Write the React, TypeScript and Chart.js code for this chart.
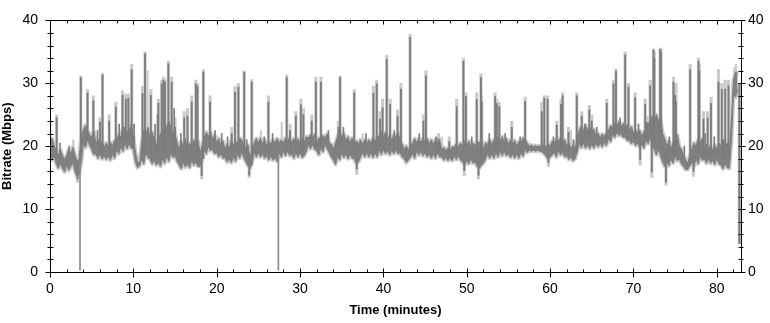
import { useEffect, useRef } from "react";
import { Chart, registerables } from "chart.js";

Chart.register(...registerables);

const X_MAX = 82.9;
const Y_MAX = 40;
// Band envelope sampling interval (minutes)
const BAND_STEP = 0.25;

const xTicks = [0, 10, 20, 30, 40, 50, 60, 70, 80];
const yTicks = [0, 10, 20, 30, 40];

// Upper edge of the dense average-bitrate band (Mbps), every 0.25 min (one row per minute)
const bandHigh = [
  20.5, 21.2, 20, 19.3,
  18.5, 19.4, 18.5, 17.9,
  18.5, 19.5, 18.8, 19.8,
  18.5, 17.6, 18, 21.5,
  22.5, 23.3, 22.5, 21.8,
  21.5, 22.4, 20.5, 21,
  20, 20.8, 19.8, 20.5,
  19.8, 20.6, 20, 20.9,
  21, 21.8, 21.5, 23,
  23, 22.2, 22.5, 23.4,
  21.5, 19, 17.5, 17.2,
  20.5, 22.5, 22, 23,
  21, 22.2, 21, 20.2,
  20.5, 22, 22, 23.5,
  23, 24, 23, 22,
  22, 20.5, 19.5, 20.8,
  20, 21.2, 19.5, 20.5,
  20, 21, 19.5, 20.8,
  19, 20, 21.5, 22.2,
  21.5, 22.3, 21, 21.8,
  20.5, 21.2, 20, 20.8,
  19.5, 20.3, 19.5, 21,
  20, 20.8, 20.5, 21.3,
  21, 20.3, 19.5, 20.2,
  18, 19.5, 20.5, 21.2,
  20.5, 21.3, 20.3, 21,
  20, 20.8, 20.3, 21,
  20.5, 21.2, 20.5, 21,
  20.5, 21.3, 20.8, 21.4,
  20.5, 21.2, 20.5, 21.2,
  20.5, 21.3, 20.5, 21.5,
  21.3, 21.8, 21.2, 21.9,
  20.5, 21.3, 21, 21.7,
  21.3, 21.9, 20.5, 20.3,
  19.5, 20.5, 21.5, 22.5,
  21.5, 22, 20.8, 21.5,
  20.5, 21.3, 20.5, 20.8,
  20.3, 21, 20.3, 21,
  20.3, 21, 20.5, 21.3,
  20.8, 21.6, 21.5, 22.3,
  21.5, 22.2, 21, 21.8,
  21, 21.8, 21.5, 22.2,
  21, 20.3, 19.5, 20,
  19.3, 20.2, 20.5, 21.2,
  20.5, 21.2, 20.5, 21.3,
  20.5, 21.2, 20.3, 21,
  20.3, 21, 20.5, 21,
  19.3, 19.8, 19.2, 19.7,
  19.3, 19.9, 19.8, 20.4,
  19.8, 20.5, 20, 20.8,
  20, 20.8, 19.8, 20.5,
  20, 20.8, 20.5, 21,
  19.5, 20.5, 20.3, 21,
  20.3, 21, 20.8, 21.5,
  20.8, 21.5, 20.5, 21.2,
  20.3, 21, 20.3, 20.9,
  20, 20.7, 20.5, 21.3,
  21, 20.5, 20, 20.2,
  19.9, 20.1, 19.9, 20.1,
  19.8, 20.3, 19.8, 20.4,
  20, 20.8, 20.5, 21.2,
  20.8, 21.4, 20.5, 21,
  20, 20.6, 19.5, 20.2,
  19.5, 21.5, 22.5, 23.2,
  22.5, 23.3, 22.5, 23.1,
  22, 22.7, 21.5, 22,
  21.3, 21.9, 21.5, 22.1,
  22.5, 23.2, 23, 23.7,
  23.3, 23.9, 23, 23.6,
  22.8, 23.4, 22.5, 23.1,
  22, 22.6, 22, 22.5,
  21.5, 22.3, 22.5, 23.5,
  24, 24.8, 24, 25,
  24, 24.5, 22, 21.2,
  20, 20.8, 19.5, 20.6,
  21, 21.8, 20, 19.5,
  18.5, 17.8, 17.3, 18.5,
  19.5, 20.5, 20, 21,
  20.5, 21.2, 19.5, 20.3,
  19.5, 20.2, 19.3, 20.1,
  19.5, 20.5, 20, 21,
  20, 20.5, 19, 24,
  30.5, 31.8, 31.5,
];

// Lower edge of the band (Mbps), same sampling
const bandLow = [
  18.5, 17.8, 18.5, 17.2,
  16.5, 17.3, 16.5, 15.9,
  17, 16.2, 16.8, 17.4,
  16, 15.2, 15.5, 17.5,
  20.5, 19.8, 21, 20.2,
  19.5, 18.7, 18.8, 18.1,
  18.8, 18, 18.5, 17.9,
  18.5, 17.8, 18.8, 18.1,
  19.5, 18.8, 20, 19.2,
  20.5, 19.6, 20.5, 19.7,
  19.5, 17.5, 16.6, 16.9,
  18, 17.2, 19, 18.2,
  18, 17.2, 17.8, 17,
  17.5, 16.8, 18, 17.3,
  18.5, 17.6, 19, 18.2,
  18.5, 17.6, 17, 16.4,
  17.5, 16.7, 17.3, 16.6,
  17.8, 17, 17.5, 16.8,
  16.8, 17.9, 19.5, 18.8,
  20, 19.3, 19.5, 18.8,
  19, 18.3, 18.8, 18.1,
  18.2, 17.5, 18, 17.4,
  18.3, 17.6, 18.8, 18.1,
  19, 18.2, 17.5, 16.9,
  16.5, 17.5, 19, 18.3,
  19, 18.3, 18.8, 18.1,
  18.5, 17.8, 18.5, 17.8,
  18.2, 17.6, 19, 18.3,
  19.2, 18.5, 19.2, 18.5,
  18.8, 18.1, 19, 18.3,
  19, 18.2, 18.5, 19.2,
  20.3, 19.6, 20.3, 19.5,
  19.3, 18.6, 19.8, 19.1,
  20.3, 19.6, 19, 18.3,
  17.8, 17.1, 18.5, 17.8,
  19, 18.2, 18.8, 18,
  18.8, 18.1, 18, 17.2,
  17.5, 18.3, 19, 18.3,
  19, 18.3, 19, 18.2,
  19, 18.3, 19.5, 18.7,
  19.5, 18.8, 19.3, 18.6,
  19.5, 18.8, 19.5, 18.8,
  19, 18.3, 18, 17.4,
  17.8, 18.3, 18.8, 18.1,
  19.3, 18.6, 19.2, 18.5,
  19, 18.3, 18.8, 18.1,
  18.8, 18.1, 19, 18.3,
  18.3, 17.8, 18.2, 17.7,
  18.2, 17.7, 18.5, 17.9,
  18.5, 17.8, 17.5, 17,
  17.8, 17.2, 18, 17.3,
  17.5, 16.8, 16.5, 17,
  17.3, 18, 18.8, 18.1,
  18.8, 18.1, 19, 18.3,
  19.2, 18.5, 19.2, 18.5,
  18.8, 18.2, 18.8, 18.1,
  18.8, 18.1, 19, 18.4,
  19.5, 19, 19.4, 19.2,
  19.4, 19.2, 19.4, 19.2,
  19.2, 18.8, 18.5, 17.9,
  18.3, 18.6, 19, 18.3,
  19.3, 18.6, 19, 18.3,
  18.5, 17.9, 18.3, 17.7,
  18, 19.2, 20.5, 19.8,
  20.5, 19.7, 20.3, 19.6,
  20.3, 19.7, 20.5, 19.9,
  20.5, 19.9, 20.7, 20.1,
  21.3, 20.7, 22, 21.4,
  22.3, 21.7, 22, 21.4,
  21.5, 20.9, 21, 20.4,
  20.8, 20.1, 20.5, 19.8,
  20.3, 19.7, 21, 20.4,
  21.5, 19.8, 19.5, 18.6,
  19.5, 18.5, 17.5, 16.8,
  17.5, 16.9, 18, 17.3,
  18.5, 17.7, 18, 17.2,
  16.8, 16.3, 16.3, 16.9,
  17.5, 16.8, 18, 17.2,
  18.5, 17.8, 18, 17.3,
  18, 17.3, 17.8, 17.1,
  18, 17.2, 17, 16.4,
  17.3, 16.6, 16.5, 21,
  28.5, 27.8, 29,
];

// Tall excursions of the average bitrate: time (min), start, end (Mbps), and peak value reached
const spikeTimes = [
  0.8, 3.3, 3.7, 4.5, 5.2, 6.0, 6.3, 7.1, 7.9,
  8.7, 9.1, 9.4, 9.8, 11.1, 11.4, 12.1, 13.0, 13.4, 13.6,
  13.8, 14.2, 14.6, 15.0, 16.1, 16.5, 17.0, 17.5, 17.7, 18.2,
  18.4, 19.2, 21.8, 22.2, 22.6, 23.3, 23.9, 24.2, 26.2,
  28.4, 28.8, 29.5, 30.1, 30.4, 31.4, 31.9, 32.5, 34.6, 34.8,
  36.5, 36.8, 38.8, 39.2, 39.6, 39.9, 40.4, 40.8, 41.7, 42.1,
  43.2, 44.8, 45.1, 46.6, 47.9, 48.8, 49.6, 49.7, 49.9, 51.2,
  51.4, 51.7, 51.8, 53.4, 53.6, 53.9, 55.4, 57.0, 59.0, 59.3,
  59.7, 59.8, 60.8, 61.3, 61.5, 62.2, 63.2, 63.8, 64.7, 65.0,
  66.8, 67.6, 67.9, 69.0, 69.4, 70.2, 70.8, 71.4, 71.6, 72.0,
  72.2, 72.4, 72.5, 73.2, 73.3, 73.9, 74.8, 75.0, 75.1, 76.8,
  77.2, 77.8, 77.9, 78.4, 78.9, 79.3, 80.2, 80.6, 81.0, 81.4,
  82.7,
];
const spikeFrom = [
  19, 17, 19, 21, 20, 19, 19, 19, 20,
  21, 21, 21, 21, 19, 19, 19, 19, 19, 19,
  19, 19, 19, 19, 18, 18, 18, 18, 18, 18,
  18, 20, 18.5, 19, 19, 19, 18, 17, 19,
  19.5, 19.5, 19.5, 19.5, 19.5, 20.5, 20, 20, 20, 20,
  19, 19, 19.5, 19.5, 20, 20, 20, 20, 20, 19.5,
  19, 19.5, 19.5, 19, 18.5, 19, 19, 18, 19, 18.5,
  18, 18.5, 18.5, 19.5, 19.5, 19.5, 19.5, 20, 19.5, 19.5,
  19.5, 19, 19.5, 19.5, 19.5, 19, 19, 21, 21, 21,
  21, 22, 22, 22, 21.5, 21, 20.5, 21, 21, 21.5,
  21, 21, 21, 21, 21, 19, 18.5, 18.5, 18.5, 17,
  18.5, 19, 19, 18.5, 18.5, 18.5, 18.5, 18, 18, 17.5,
  30,
];
const spikeTo = [
  24.5, 14.8, 30.9, 28.5, 27.2, 23.8, 31.3, 24, 26.2,
  28.1, 27.5, 27.6, 32.2, 28.4, 34.7, 28.1, 26.8, 29.9, 30.5,
  30.2, 33.1, 30.2, 23, 24.5, 24.8, 27, 29.9, 29.5, 15.3,
  31.8, 27, 22, 28.6, 29.4, 31.7, 15.4, 30.2, 27,
  30.9, 22.5, 24.8, 26.6, 25, 24, 30.2, 30.2, 23, 30.9,
  28.5, 16.4, 28.4, 29.9, 24.3, 26.1, 33.8, 26.6, 24.8, 29.1,
  37.3, 24, 31.2, 21.2, 20.7, 26.3, 33.5, 16.1, 27.9, 27.4,
  15.4, 30.9, 27, 27.9, 26.8, 26.3, 23, 27.1, 25.5, 27.6,
  27.5, 17.4, 23.3, 26.7, 28, 22.2, 28, 24.8, 25.8, 24,
  26.8, 29.9, 31.9, 34.5, 29.4, 27.7, 17.9, 26.6, 23.8, 29.6,
  15.9, 35.3, 34, 35.4, 35, 14.3, 30.2, 28.1, 27, 32.2,
  16, 33.5, 32, 24.3, 24.5, 26.8, 30.2, 29.1, 29.1, 29.6,
  4.5,
];
const spikePeak = [
  25, 14.3, 31.2, 29, 28, 24.5, 31.6, 25, 27,
  28.8, 28.3, 28.3, 33, 29.5, 35, 29, 27.5, 30.5, 31,
  30.6, 33.5, 31, 24.5, 25.5, 26, 28, 30.5, 30, 14.8,
  32.2, 28, 23, 29.5, 30, 32, 15, 30.6, 28,
  31.3, 23.5, 25.5, 27.5, 26, 25, 31, 31, 24, 31.2,
  29, 15.5, 29.5, 30.5, 25.5, 27.5, 34.5, 27.5, 25.8, 30,
  37.8, 25, 32, 22, 21.5, 27.5, 34, 15.3, 28.5, 28.5,
  14.8, 31.5, 28, 28.5, 27.5, 27, 24, 27.8, 27, 28,
  28, 16.8, 24, 27.5, 28.5, 23, 28.5, 25.5, 26.5, 25,
  27.5, 30.5, 32.3, 35, 30, 28.5, 17, 27.5, 24.8, 30.5,
  15, 35.5, 35, 35.6, 35.5, 13.8, 31, 29, 30, 33,
  15.2, 34, 33, 25.5, 25.5, 27.8, 32.2, 30, 30.5, 30.5,
  4.5,
];

// Small excursions just above the band: time (min), start, end (Mbps)
const smallSpikeTimes = [
  1.2, 2.3, 5.7, 8.3, 10.1, 12.6, 12.9, 14.9, 15.7, 19.8,
  20.6, 21.3, 23.6, 25.7, 26.7, 33.4, 35.2, 37.9, 41.3, 44.3,
  46.3, 50.6, 52.7, 54.6, 56.4, 60.4, 62.8, 64.2, 65.6, 68.4,
  70.6, 74.3, 76.1, 78.6, 79.7, 80.8,
];
const smallSpikeFrom = [
  18, 18, 20, 20.5, 20.5, 19, 19, 19, 18.5, 20,
  19.5, 19, 18.5, 19.5, 19.5, 20.5, 20, 19.5, 20, 20,
  19.5, 19, 19.5, 20, 19.5, 19.5, 19, 21.5, 21, 22.5,
  21, 18.5, 17.5, 19, 18.5, 18,
];
const smallSpikeTo = [
  20.5, 20, 22.5, 23.5, 23.5, 23.5, 25, 26, 22, 22.5,
  22, 21.5, 21, 21.5, 22, 22.5, 23, 22, 22.5, 22,
  21.5, 21.5, 22, 22, 21.5, 21.5, 21, 23.5, 23, 24.5,
  23.5, 21.5, 20, 22, 21.5, 21,
];

// Momentary drops in the trace: time (min), start, end (Mbps)
const dropTimes = [3.6, 27.4];
const dropFrom = [17.5, 18.5];
const dropTo = [0.3, 0.3];

// Peak-only excursions (light trace): time (min), start, end (Mbps)
const peakOnlyTimes = [2.8, 11.7, 25.3, 27.8, 37.5, 47.0, 62.5, 82.1, 82.3];
const peakOnlyFrom = [18, 20, 19.5, 20, 20, 19, 19, 29, 30];
const peakOnlyTo = [21, 32, 22.5, 23.8, 22, 21.5, 22.5, 32.5, 33];

const DARK = "#7c7c7c";
const LIGHT = "#cacaca";

const TICK_FONT = {
  family: '"Liberation Sans", Arial, sans-serif',
  size: 14,
};
const TITLE_FONT = {
  family: '"Liberation Sans", Arial, sans-serif',
  size: 13,
  weight: "bold" as const,
};

const bandPoints = (vals: number[]) =>
  vals.map((v, i) => ({ x: i * BAND_STEP, y: v }));
const rangePoints = (t: number[], a: number[], b: number[]) =>
  t.map((x, i) => ({ x, y: [a[i], b[i]] }));

const framePlugin = {
  id: "frameTicks",
  afterDraw(chart: any) {
    const { ctx, chartArea } = chart;
    const xs = chart.scales.x;
    const ys = chart.scales.y;
    const L = Math.round(chartArea.left) + 0.5;
    const R = Math.round(chartArea.right) + 0.5;
    const T = Math.round(chartArea.top) + 0.5;
    const B = Math.round(chartArea.bottom) + 0.5;
    ctx.save();
    ctx.strokeStyle = "#000";
    ctx.lineWidth = 1;
    ctx.beginPath();
    ctx.moveTo(L, T);
    ctx.lineTo(R, T);
    ctx.lineTo(R, B);
    ctx.lineTo(L, B);
    ctx.closePath();
    for (let v = 0; v <= 82; v += 2) {
      const px = Math.round(xs.getPixelForValue(v)) + 0.5;
      const major = v % 10 === 0;
      ctx.moveTo(px, B - (major ? 4 : 3));
      ctx.lineTo(px, B + (major ? 5 : 0));
      ctx.moveTo(px, T);
      ctx.lineTo(px, T + (major ? 4 : 3));
    }
    for (let v = 0; v <= Y_MAX; v += 2) {
      const py = Math.round(ys.getPixelForValue(v)) + 0.5;
      const major = v % 10 === 0;
      ctx.moveTo(L - (major ? 5 : 3), py);
      ctx.lineTo(L + 3, py);
      ctx.moveTo(R - 3, py);
      ctx.lineTo(R + (major ? 4 : 2), py);
    }
    ctx.stroke();
    ctx.restore();
  },
};

const hiddenGrid = {
  display: false,
  drawTicks: false,
  drawOnChartArea: false,
  tickLength: 0,
};

export default function App() {
  const canvasRef = useRef<HTMLCanvasElement | null>(null);

  useEffect(() => {
    const canvas = canvasRef.current;
    if (!canvas) return;
    const lineBase = {
      type: "line" as const,
      pointRadius: 0,
      tension: 0,
      borderJoinStyle: "round" as const,
    };
    const barBase = {
      type: "bar" as const,
      borderWidth: 0,
      grouped: false,
    };
    const chart = new Chart(canvas, {
      type: "line",
      data: {
        datasets: [
          {
            ...barBase,
            label: "Average spikes",
            data: rangePoints(spikeTimes, spikeFrom, spikeTo),
            backgroundColor: DARK,
            barThickness: 1.2,
            order: 1,
          } as any,
          {
            ...barBase,
            label: "Average small spikes",
            data: rangePoints(smallSpikeTimes, smallSpikeFrom, smallSpikeTo),
            backgroundColor: DARK,
            barThickness: 1,
            order: 1,
          } as any,
          {
            ...barBase,
            label: "Drops",
            data: rangePoints(dropTimes, dropFrom, dropTo),
            backgroundColor: "#8a8a8a",
            barThickness: 1,
            order: 1,
          } as any,
          {
            ...lineBase,
            label: "Average high",
            data: bandPoints(bandHigh),
            borderColor: DARK,
            borderWidth: 1,
            backgroundColor: "#808080",
            fill: "+1",
            order: 2,
          },
          {
            ...lineBase,
            label: "Average low",
            data: bandPoints(bandLow),
            borderColor: DARK,
            borderWidth: 1,
            fill: false,
            order: 2,
          },
          {
            ...barBase,
            label: "Peak spikes",
            data: rangePoints(spikeTimes, spikeFrom, spikePeak),
            backgroundColor: LIGHT,
            barThickness: 2.5,
            order: 3,
          } as any,
          {
            ...barBase,
            label: "Peak only",
            data: rangePoints(peakOnlyTimes, peakOnlyFrom, peakOnlyTo),
            backgroundColor: LIGHT,
            barThickness: 1.5,
            order: 3,
          } as any,
          {
            ...lineBase,
            label: "Peak high",
            data: bandPoints(bandHigh),
            borderColor: LIGHT,
            borderWidth: 4,
            fill: false,
            order: 4,
          },
          {
            ...lineBase,
            label: "Peak low",
            data: bandPoints(bandLow),
            borderColor: LIGHT,
            borderWidth: 4,
            fill: false,
            order: 4,
          },
        ],
      },
      options: {
        animation: false,
        responsive: false,
        devicePixelRatio: 1,
        layout: { padding: { top: 10, left: 0, right: 0, bottom: 0 } },
        plugins: {
          legend: { display: false },
          tooltip: { enabled: false },
        },
        scales: {
          x: {
            type: "linear",
            position: "bottom",
            min: 0,
            max: X_MAX,
            offset: false,
            afterFit: (s: any) => {
              s.height = 51;
            },
            afterBuildTicks: (s: any) => {
              s.ticks = xTicks.map((v) => ({ value: v }));
            },
            grid: { ...hiddenGrid, offset: false },
            border: { display: false },
            ticks: {
              autoSkip: false,
              maxRotation: 0,
              padding: 9,
              color: "#000",
              font: TICK_FONT,
            },
            title: {
              display: true,
              text: "Time (minutes)",
              color: "#000",
              font: TITLE_FONT,
              padding: { top: 0, bottom: 5 },
            },
          },
          y: {
            type: "linear",
            position: "left",
            min: 0,
            max: Y_MAX,
            afterFit: (s: any) => {
              s.width = 50;
            },
            afterBuildTicks: (s: any) => {
              s.ticks = yTicks.map((v) => ({ value: v }));
            },
            grid: hiddenGrid,
            border: { display: false },
            ticks: {
              padding: 12,
              color: "#000",
              font: TICK_FONT,
            },
            title: {
              display: true,
              text: "Bitrate (Mbps)",
              color: "#000",
              font: TITLE_FONT,
              padding: { top: 0, bottom: 0 },
            },
          },
          y2: {
            type: "linear",
            position: "right",
            min: 0,
            max: Y_MAX,
            afterFit: (s: any) => {
              s.width = 29;
            },
            afterBuildTicks: (s: any) => {
              s.ticks = yTicks.map((v) => ({ value: v }));
            },
            grid: hiddenGrid,
            border: { display: false },
            ticks: {
              padding: 7,
              color: "#000",
              font: TICK_FONT,
            },
          },
        },
      },
      plugins: [framePlugin],
    });
    return () => chart.destroy();
  }, []);

  return (
    <div
      style={{
        position: "fixed",
        left: 0,
        top: 0,
        width: 770,
        height: 323,
        background: "#fff",
      }}
    >
      <canvas ref={canvasRef} width={770} height={323} />
    </div>
  );
}
